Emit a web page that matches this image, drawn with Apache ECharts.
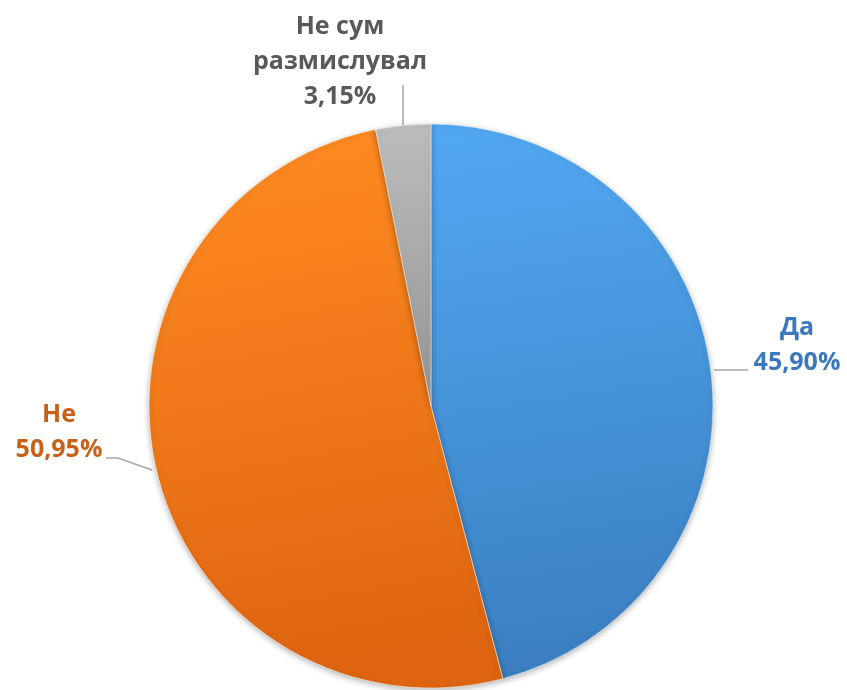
<!DOCTYPE html>
<html>
<head>
<meta charset="utf-8">
<script src="https://cdn.jsdelivr.net/npm/echarts@6/dist/echarts.min.js"></script>
<style>html,body{margin:0;padding:0;background:#fff;}#c{width:847px;height:690px;}</style>
</head>
<body>
<div id="c"></div>
<script>
var categories = ['Да', 'Не', 'Не сум\nразмислувал'];
var values = [45.90, 50.95, 3.15];
var valueLabels = ['45,90%', '50,95%', '3,15%'];

var topColors = ['#52A8F2', '#FF8C22', '#BDBDBD'];
var bottomColors = ['#3A7EC0', '#DD6410', '#949494'];
var labelColors = ['#3B78BD', '#C9601A', '#595959'];
var labelPos = [
  {x: 797, y: 345, line: [[714, 370], [731, 370], [748, 370]]},
  {x: 59, y: 432, line: [[152, 470], [118, 458], [106, 458]]},
  {x: 340, y: 62, line: [[403, 126], [403, 105], [403, 85]]}
];

var chart = echarts.init(document.getElementById('c'));
var data = categories.map(function (c, i) {
  return {
    name: c,
    value: values[i],
    itemStyle: {
      color: new echarts.graphic.LinearGradient(0, 0, 0.3, 1, [
        {offset: 0, color: topColors[i]},
        {offset: 1, color: bottomColors[i]}
      ])
    },
    label: {color: labelColors[i]}
  };
});

chart.setOption({
  animation: false,
  series: [{
    type: 'pie',
    center: [431, 406],
    radius: 282,
    startAngle: 90,
    clockwise: true,
    data: data,
    itemStyle: {
      borderColor: 'rgba(255,255,255,0.5)',
      borderWidth: 1,
      shadowBlur: 6,
      shadowColor: 'rgba(0,0,0,0.3)',
      shadowOffsetY: 2
    },
    label: {
      show: true,
      position: 'outside',
      fontFamily: 'Open Sans',
      fontWeight: 'bold',
      fontSize: 25,
      lineHeight: 35,
      align: 'center',
      overflow: 'none',
      width: 200,
      bleedMargin: 0,
      formatter: function (p) { return p.name + '\n' + valueLabels[p.dataIndex]; }
    },
    labelLine: {
      show: true,
      lineStyle: {color: '#A6A6A6', width: 1.5}
    },
    labelLayout: function (p) {
      var lp = labelPos[p.dataIndex];
      return {
        x: lp.x,
        y: lp.y,
        align: 'center',
        verticalAlign: 'middle',
        labelLinePoints: lp.line
      };
    }
  }]
});
</script>
</body>
</html>
